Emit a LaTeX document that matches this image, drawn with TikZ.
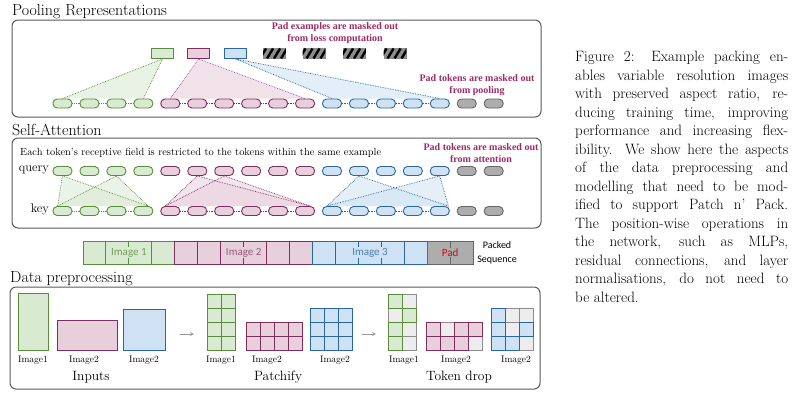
\documentclass[tikz,border=0pt]{standalone}
\usepackage{fontspec}
\newfontfamily\barfont{Carlito}
\newfontfamily\notefont{Liberation Serif}
\usepackage{xcolor}
\definecolor{imgGreen}{HTML}{D9EAD3}
\definecolor{imgGreenDk}{HTML}{5B8C3A}
\definecolor{imgPink}{HTML}{E8CFDC}
\definecolor{imgPinkDk}{HTML}{7D2E5C}
\definecolor{imgBlue}{HTML}{CFE2F3}
\definecolor{imgBlueDk}{HTML}{2A67A0}
\definecolor{padGray}{HTML}{ADADAD}
\definecolor{padGrayDk}{HTML}{666666}
\definecolor{maskRed}{HTML}{9E2B63}
\definecolor{poolPurple}{HTML}{9650B0}
\usepackage{tikz}
\usetikzlibrary{calc,backgrounds}

\tikzset{
  tok/.style={rectangle, rounded corners=4.2pt, minimum width=19pt, minimum height=9pt, inner sep=0pt, line width=0.9pt},
  gtok/.style={tok, draw=imgGreenDk, fill=imgGreen},
  ptok/.style={tok, draw=imgPinkDk, fill=imgPink},
  btok/.style={tok, draw=imgBlueDk, fill=imgBlue},
  xtok/.style={tok, draw=padGrayDk, fill=padGray},
  pooled/.style={rectangle, minimum width=22pt, minimum height=10pt, inner sep=0pt, line width=0.9pt},
  panel/.style={draw=black!65, line width=1pt, rounded corners=6pt},
  paneltitle/.style={anchor=base west, inner sep=0pt, font=\fontsize{16}{19}\selectfont},
  masknote/.style={align=center, text=maskRed, inner sep=0pt, font=\notefont\bfseries\fontsize{10}{12}\selectfont},
  link/.style={densely dotted, line width=0.7pt},
  cell/.style={line width=0.9pt},
  imgcap/.style={inner sep=0pt, font=\fontsize{9.5}{11}\selectfont},
  stagecap/.style={inner sep=0pt, font=\fontsize{13.5}{16}\selectfont},
  seqlabel/.style={inner sep=1pt, font=\barfont\fontsize{11}{13}\selectfont},
}

\begin{document}
\begin{tikzpicture}[x=1pt, y=-1pt, >=stealth]
  \useasboundingbox (0,0) rectangle (792,392);

  % ---------- pooling ----------
  \node[paneltitle] (ttlpool) at (12,15) {Pooling Representations};
  \draw[panel] (12,20) rectangle (541,117);
  \node[pooled, draw=imgGreenDk, fill=imgGreen] (pool1) at (162.5,53.5) {};
  \node[pooled, draw=imgPinkDk, fill=imgPink] (pool2) at (198.5,53.5) {};
  \node[pooled, draw=imgBlueDk, fill=imgBlue] (pool3) at (235.5,53.5) {};
  \foreach \n/\x in {1/274.5,2/314,3/354.5,4/395} {
    \node[pooled, draw=black!45, fill=black!45] (pad\n) at (\x,53) {};
    \begin{scope}
      \clip (pad\n.south west) rectangle (pad\n.north east);
      \foreach \s in {-3,4,11,18}
        \draw[line width=2.4pt] ($(pad\n.south west)+(\s,0)$) -- ++(6,-10);
    \end{scope}
  }
  \foreach \i in {1,...,4} \node[gtok] (p\i) at ({62.5+(\i-1)*26.95},103.5) {};
  \foreach \i in {5,...,10} \node[ptok] (p\i) at ({62.5+(\i-1)*26.95},103.5) {};
  \foreach \i in {11,...,15} \node[btok] (p\i) at ({62.5+(\i-1)*26.95},103.5) {};
  \foreach \i in {16,17} \node[xtok] (p\i) at ({62.5+(\i-1)*26.95},103.5) {};
  \begin{scope}[on background layer]
    \fill[imgGreen, opacity=0.6] (pool1.south) -- (p1.north) -- (p4.north) -- cycle;
    \fill[imgPink, opacity=0.6] (pool2.south) -- (p5.north) -- (p10.north) -- cycle;
    \fill[imgBlue, opacity=0.6] (pool3.south) -- (p11.north) -- (p15.north) -- cycle;
  \end{scope}
  \draw[link, imgGreenDk] (p1.north) -- (pool1.south) -- (p4.north);
  \draw[link, poolPurple] (p5.north) -- (pool2.south) -- (p10.north);
  \draw[link, imgBlueDk] (p11.north) -- (pool3.south) -- (p15.north);
  \node[masknote] (noteloss) at (335,33) {Pad examples are masked out\\from loss computation};
  \node[masknote] (notepool) at (477,85) {Pad tokens are masked out\\from pooling};

  % ---------- self-attention ----------
  \node[paneltitle] (ttlattn) at (12,135) {Self-Attention};
  \draw[panel] (12,138) rectangle (541,228);
  \node[anchor=west, inner sep=0pt, font=\fontsize{10.4}{12}\selectfont] (field) at (20,153)
    {Each token's receptive field is restricted to the tokens within the same example};
  \node[anchor=east, inner sep=0pt, font=\fontsize{12.5}{14}\selectfont] (qlbl) at (49,170) {query};
  \node[anchor=east, inner sep=0pt, font=\fontsize{12.5}{14}\selectfont] (klbl) at (49,209.5) {key};
  \foreach \r/\y in {q/171,k/211} {
    \foreach \i in {1,...,4} \node[gtok] (\r\i) at ({62.5+(\i-1)*26.95},\y) {};
    \foreach \i in {5,...,10} \node[ptok] (\r\i) at ({62.5+(\i-1)*26.95},\y) {};
    \foreach \i in {11,...,15} \node[btok] (\r\i) at ({62.5+(\i-1)*26.95},\y) {};
    \foreach \i in {16,17} \node[xtok] (\r\i) at ({62.5+(\i-1)*26.95},\y) {};
  }
  % neighbour links
  \foreach \r in {p,k} {
    \foreach \a/\b in {1/2,2/3,3/4} \draw[link, imgGreenDk] (\r\a) -- (\r\b);
    \foreach \a/\b in {5/6,6/7,7/8,8/9,9/10} \draw[link, imgPinkDk] (\r\a) -- (\r\b);
    \foreach \a/\b in {11/12,12/13,13/14,14/15} \draw[link, imgBlueDk] (\r\a) -- (\r\b);
  }
  \begin{scope}[on background layer]
    \foreach \t in {1,3}
      \fill[imgGreen, opacity=0.55] (q\t.south) -- (k1.135) -- (k4.45) -- cycle;
    \foreach \t in {6,7}
      \fill[imgPink, opacity=0.55] (q\t.south) -- (k5.135) -- (k10.45) -- cycle;
    \foreach \t in {12,15}
      \fill[imgBlue, opacity=0.55] (q\t.south) -- (k11.135) -- (k15.30) -- cycle;
  \end{scope}
  \foreach \t in {1,3} \draw[link, imgGreenDk] (k1.135) -- (q\t.south) -- (k4.45);
  \foreach \t in {6,7} \draw[link, imgPinkDk] (k5.135) -- (q\t.south) -- (k10.45);
  \foreach \t in {12,15} \draw[link, imgBlueDk] (k11.135) -- (q\t.south) -- (k15.30);
  \node[masknote] (noteattn) at (481,153) {Pad tokens are masked out\\from attention};

  % ---------- packed sequence ----------
  \foreach \i in {1,...,4} \draw[cell, imgGreenDk, fill=imgGreen] ({83+(\i-1)*22.94},241) rectangle ++(22.94,23);
  \foreach \i in {5,...,10} \draw[cell, imgPinkDk, fill=imgPink] ({83+(\i-1)*22.94},241) rectangle ++(22.94,23);
  \foreach \i in {11,...,15} \draw[cell, imgBlueDk, fill=imgBlue] ({83+(\i-1)*22.94},241) rectangle ++(22.94,23);
  \foreach \i in {16,17} \draw[cell, padGrayDk, fill=padGray] ({83+(\i-1)*22.94},241) rectangle ++(22.94,23);
  \node[seqlabel, fill=imgGreen, text=imgGreenDk!85] (seq1) at (128.9,252.5) {Image 1};
  \node[seqlabel, fill=imgPink, text=imgPinkDk!80] (seq2) at (243.7,252.5) {Image 2};
  \node[seqlabel, fill=imgBlue, text=imgBlueDk!85] (seq3) at (370,252.5) {Image 3};
  \node[seqlabel, fill=padGray, text=red!85!black] (seqpad) at (450.2,252.5) {Pad};
  \node[inner sep=0pt, align=center, font=\barfont\fontsize{10}{14}\selectfont] (packed) at (497,253)
    {Packed\\Sequence};

  % ---------- data preprocessing ----------
  \node[paneltitle] (ttldata) at (10,282.5) {Data preprocessing};
  \draw[panel] (10,287) rectangle (540,389);
  % inputs
  \draw[cell, imgGreenDk, fill=imgGreen] (18,293) rectangle (48,350);
  \draw[cell, imgPinkDk, fill=imgPink] (57,320) rectangle (117,350);
  \draw[cell, imgBlueDk, fill=imgBlue] (123,309) rectangle (165,350);
  \node[imgcap] (in1) at (33,360) {Image1};
  \node[imgcap] (in2) at (84,360) {Image2};
  \node[imgcap] (in3) at (144,360) {Image2};
  \node[stagecap] (inputs) at (91,377) {Inputs};
  \coordinate (arr1s) at (180,334);
  \coordinate (arr1e) at (194,334);
  \draw[->, black!40, line width=0.8pt] (arr1s) -- (arr1e);
  % patchify
  \foreach \c in {0,1} \foreach \r in {0,...,3}
    \draw[cell, imgGreenDk, fill=imgGreen] ({207+14*\c},{294+14*\r}) rectangle ++(14,14);
  \foreach \c in {0,...,3} \foreach \r in {0,1}
    \draw[cell, imgPinkDk, fill=imgPink] ({246+14*\c},{322+14*\r}) rectangle ++(14,14);
  \foreach \c in {0,...,2} \foreach \r in {0,...,2}
    \draw[cell, imgBlueDk, fill=imgBlue] ({310+14*\c},{308+14*\r}) rectangle ++(14,14);
  \node[imgcap] (pa1) at (221,360) {Image1};
  \node[imgcap] (pa2) at (267,360) {Image2};
  \node[imgcap] (pa3) at (335,360) {Image2};
  \node[stagecap] (patchify) at (278,377) {Patchify};
  \coordinate (arr2s) at (362,334);
  \coordinate (arr2e) at (376,334);
  \draw[->, black!40, line width=0.8pt] (arr2s) -- (arr2e);
  % token drop: grey cells first, kept cells on top
  \foreach \c in {0,1} \foreach \r in {0,...,3}
    \draw[cell, black!45, fill=black!7] ({388+14*\c},{294+14*\r}) rectangle ++(14,14);
  \foreach \c in {0,...,3} \foreach \r in {0,1}
    \draw[cell, black!45, fill=black!7] ({426+14*\c},{322+14*\r}) rectangle ++(14,14);
  \foreach \c in {0,...,2} \foreach \r in {0,...,2}
    \draw[cell, black!45, fill=black!7] ({491+14*\c},{308+14*\r}) rectangle ++(14,14);
  \foreach \c/\r in {0/0,1/1,0/2,0/3}
    \draw[cell, imgGreenDk, fill=imgGreen] ({388+14*\c},{294+14*\r}) rectangle ++(14,14);
  \foreach \c/\r in {0/0,2/0,3/0,0/1,1/1,2/1}
    \draw[cell, imgPinkDk, fill=imgPink] ({426+14*\c},{322+14*\r}) rectangle ++(14,14);
  \foreach \c/\r in {0/0,0/1,2/1,0/2,1/2}
    \draw[cell, imgBlueDk, fill=imgBlue] ({491+14*\c},{308+14*\r}) rectangle ++(14,14);
  \node[imgcap] (td1) at (404,360) {Image1};
  \node[imgcap] (td2) at (456,360) {Image2};
  \node[imgcap] (td3) at (516,360) {Image2};
  \node[stagecap] (tokdrop) at (459,377) {Token drop};

  % ---------- caption ----------
  \node[anchor=north west, inner sep=0pt, text width=213pt, align=justify,
        font=\fontsize{15}{18.5}\selectfont] (caption) at (575,51)
    {Figure 2: Example packing en-\linebreak
     ables variable resolution images\linebreak
     with preserved aspect ratio, re-\linebreak
     ducing training time, improving\linebreak
     performance and increasing flex-\linebreak
     ibility. We show here the aspects\linebreak
     of the data preprocessing and\linebreak
     modelling that need to be mod-\linebreak
     ified to support Patch n’ Pack.\linebreak
     The position-wise operations in\linebreak
     the network, such as MLPs,\linebreak
     residual connections, and layer\linebreak
     normalisations, do not need to\linebreak
     be altered.};
\end{tikzpicture}
\end{document}
